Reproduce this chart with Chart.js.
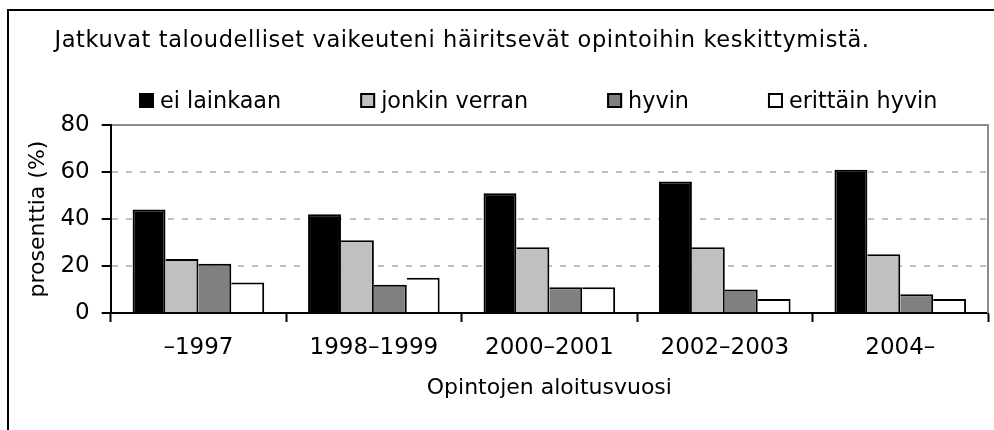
<!DOCTYPE html>
<html>
<head>
<meta charset="utf-8">
<script src="https://cdn.jsdelivr.net/npm/chart.js@4/dist/chart.umd.min.js"></script>
<style>
	html, body { margin: 0; padding: 0; background: #fff; }
	#wrap { width: 994px; height: 430px; overflow: hidden; }
</style>
</head>
<body>
<div id="wrap"><canvas id="myChart" width="994" height="430"></canvas></div>
<script>
// Data
const otsikko = 'Jatkuvat taloudelliset vaikeuteni häiritsevät opintoihin keskittymistä.';
const vuodet = ['–1997', '1998–1999', '2000–2001', '2002–2003', '2004–'];
const sarjat = ['ei lainkaan', 'jonkin verran', 'hyvin', 'erittäin hyvin'];
const eiLainkaan = [44, 42, 51, 56, 61];
const jonkinVerran = [23, 31, 28, 28, 25];
const hyvin = [21, 12, 11, 10, 8];
const erittainHyvin = [13, 15, 11, 6, 6];
const yTicks = [0, 20, 40, 60, 80];
const varit = ['#000000', '#c0c0c0', '#808080', '#ffffff'];

const fontti = '"DejaVu Sans", Verdana, sans-serif';

// Frame around the whole picture + grey right edge of the plot
const kehysPlugin = {
	id: 'kehys',
	beforeDraw(chart) {
		const ctx = chart.ctx;
		ctx.save();
		ctx.fillStyle = '#fff';
		ctx.fillRect(0, 0, chart.width, chart.height);
		ctx.strokeStyle = '#000';
		ctx.lineWidth = 2;
		ctx.strokeRect(8, 10, chart.width + 50, chart.height + 50);
		ctx.restore();
	},
	beforeDatasetsDraw(chart) {
		const ctx = chart.ctx;
		const a = chart.chartArea;
		ctx.save();
		ctx.strokeStyle = '#8c8c8c';
		ctx.lineWidth = 2;
		ctx.beginPath();
		ctx.moveTo(a.right, a.top - 1);
		ctx.lineTo(a.right, a.bottom);
		ctx.stroke();
		ctx.restore();
	}
};

// Title and legend drawn by hand (they are not centred on the canvas)
const selitePlugin = {
	id: 'selite',
	afterDraw(chart) {
		const ctx = chart.ctx;
		ctx.save();
		ctx.fillStyle = '#000';
		ctx.textBaseline = 'alphabetic';
		ctx.textAlign = 'center';
		ctx.font = '22.5px ' + fontti;
		ctx.letterSpacing = '0.6px';
		ctx.fillText(otsikko, 462, 47);
		ctx.letterSpacing = '0px';

		ctx.textAlign = 'left';
		ctx.font = '22.3px ' + fontti;
		let x = 139;
		chart.data.datasets.forEach(ds => {
			ctx.fillStyle = ds.backgroundColor;
			ctx.fillRect(x, 93, 15, 15);
			ctx.strokeStyle = '#000';
			ctx.lineWidth = 2;
			ctx.strokeRect(x + 1, 94, 13, 13);
			ctx.fillStyle = '#000';
			ctx.fillText(ds.label, x + 21, 108);
			x += 21 + ctx.measureText(ds.label).width + 79;
		});
		ctx.restore();
	}
};

const arvot = [eiLainkaan, jonkinVerran, hyvin, erittainHyvin];

var ctx = document.getElementById('myChart').getContext('2d');
new Chart(ctx, {
	type: 'bar',
	data: {
		labels: vuodet,
		datasets: sarjat.map((nimi, i) => ({
			label: nimi,
			data: arvot[i],
			backgroundColor: varit[i],
			borderColor: '#000',
			borderWidth: { top: 2, left: i === 0 ? 2 : 0, right: 2, bottom: 0 },
			borderSkipped: 'start',
			barPercentage: 1,
			categoryPercentage: 0.75,
		})),
	},
	options: {
		responsive: false,
		animation: false,
		devicePixelRatio: 1,
		layout: {
			padding: { top: 125, left: 24, right: 6, bottom: 29 },
		},
		plugins: {
			legend: { display: false },
			title: { display: false },
			tooltip: { enabled: false },
		},
		scales: {
			x: {
				grid: {
					display: true,
					offset: true,
					drawOnChartArea: false,
					drawTicks: true,
					tickLength: 9,
					tickColor: '#000',
					tickWidth: 2,
				},
				border: { display: true, color: '#000', width: 2 },
				ticks: {
					color: '#000',
					padding: 12,
					maxRotation: 0,
					font: { family: fontti, size: 23 },
				},
				title: {
					display: true,
					text: 'Opintojen aloitusvuosi',
					color: '#000',
					padding: { top: 1, bottom: 0 },
					font: { family: fontti, size: 22 },
				},
			},
			y: {
				min: yTicks[0],
				max: yTicks[yTicks.length - 1],
				afterBuildTicks: scale => {
					scale.ticks = yTicks.map(v => ({ value: v }));
				},
				grid: {
					color: c => (c.tick && c.tick.value === 0) ? 'rgba(0,0,0,0)' :
						(c.tick && c.tick.value === 80) ? '#8c8c8c' : '#c0c0c0',
					lineWidth: 2,
					drawTicks: true,
					tickLength: 9,
					tickColor: '#000',
					tickWidth: 2,
				},
				border: {
					display: true,
					color: '#000',
					width: 2,
					dash: c => (c.tick && c.tick.value === 80) ? [] : [6, 8],
				},
				ticks: {
					color: '#000',
					padding: 12,
					font: { family: fontti, size: 23 },
				},
				title: {
					display: true,
					text: 'prosenttia (%)',
					color: '#000',
					padding: { top: 1, bottom: -3 },
					font: { family: fontti, size: 22 },
				},
			},
		},
	},
	plugins: [kehysPlugin, selitePlugin],
});
</script>
</body>
</html>
